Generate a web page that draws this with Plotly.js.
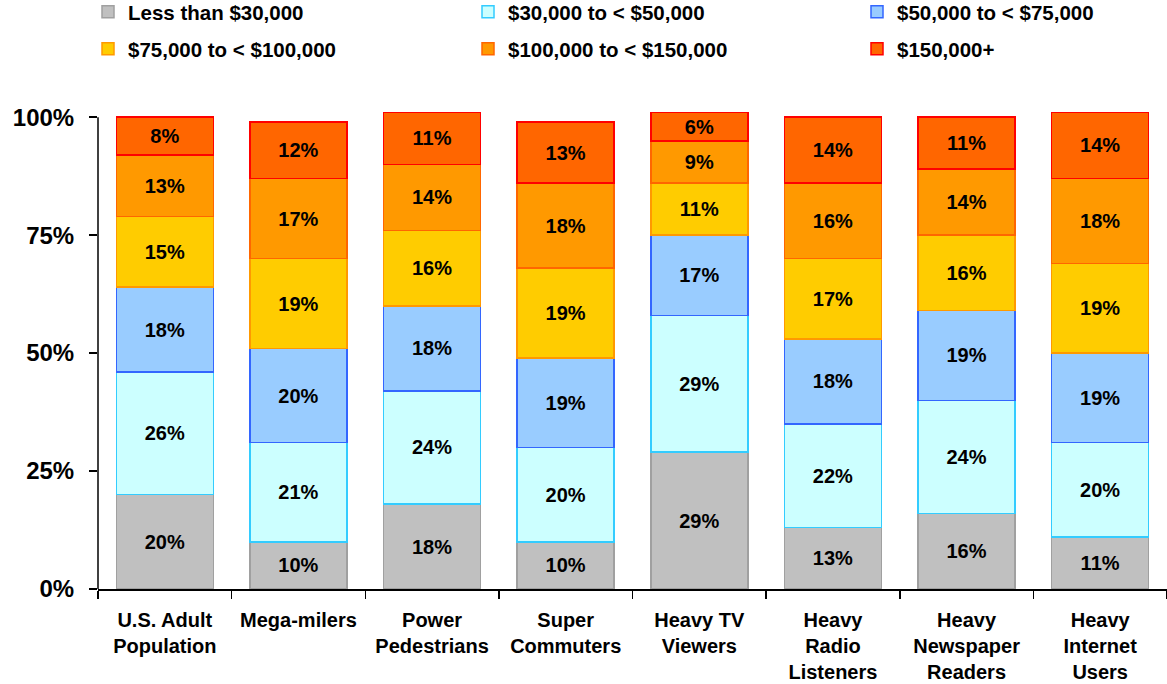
<!DOCTYPE html>
<html>
<head>
<meta charset="utf-8">
<script src="https://cdn.plot.ly/plotly-3.0.1.min.js"></script>
<style>html,body{margin:0;padding:0;background:#fff;}#chart{width:1167px;height:684px;}</style>
</head>
<body>
<div id="chart"></div>
<script>
const categories = ["U.S. Adult<br>Population", "Mega-milers", "Power<br>Pedestrians", "Super<br>Commuters", "Heavy TV<br>Viewers", "Heavy<br>Radio<br>Listeners", "Heavy<br>Newspaper<br>Readers", "Heavy<br>Internet<br>Users"];
const seriesNames = ["Less than $30,000", "$30,000 to < $50,000", "$50,000 to < $75,000", "$75,000 to < $100,000", "$100,000 to < $150,000", "$150,000+"];
const lessThan30k   = [20, 10, 18, 10, 29, 13, 16, 11];
const from30to50k   = [26, 21, 24, 20, 29, 22, 24, 20];
const from50to75k   = [18, 20, 18, 19, 17, 18, 19, 19];
const from75to100k  = [15, 19, 16, 19, 11, 17, 16, 19];
const from100to150k = [13, 17, 14, 18,  9, 16, 14, 18];
const over150k      = [ 8, 12, 11, 13,  6, 14, 11, 14];
const yTickVals = [0, 25, 50, 75, 100];
const yTickText = ["0%", "25%", "50%", "75%", "100%"];

const fills = ["#C0C0C0", "#CCFFFF", "#99CCFF", "#FFCC00", "#FF9900", "#FF6600"];
const lines = ["#A0A0A0", "#33CCFF", "#3366FF", "#FF9900", "#FF6600", "#FF0000"];
const allSeries = [lessThan30k, from30to50k, from50to75k, from75to100k, from100to150k, over150k];
const FONT = '"Liberation Sans", Arial, sans-serif';

const legendIds = ['legend', 'legend2', 'legend3', 'legend4', 'legend5', 'legend6'];

const traces = allSeries.map((vals, i) => ({
  type: 'bar',
  name: seriesNames[i],
  x: categories,
  y: vals,
  legend: legendIds[i],
  marker: {color: fills[i], line: {color: lines[i], width: 1.5}},
  texttemplate: '<b>%{y}%</b>',
  textposition: 'inside',
  insidetextanchor: 'middle',
  textangle: 0,
  constraintext: 'none',
  textfont: {family: FONT, size: 20, color: '#000'},
  hoverinfo: 'skip'
}));

// legend placement (pixels of the page): column left edges and row centres
const colPx = [88, 468, 857];
const rowPx = [12, 49];
const plotL = 98, plotW = 1069, plotT = 70, plotH = 519;

const layout = {
  width: 1167,
  height: 684,
  margin: {l: plotL, r: 0, t: plotT, b: 95, autoexpand: false},
  paper_bgcolor: '#fff',
  plot_bgcolor: '#fff',
  barmode: 'stack',
  bargap: 0.274,
  showlegend: true,
  xaxis: {
    type: 'category',
    showline: true,
    linecolor: '#000',
    linewidth: 1.5,
    ticks: 'outside',
    tickson: 'boundaries',
    ticklen: 8,
    tickwidth: 1.5,
    tickcolor: '#000',
    ticklabelstandoff: 12,
    showgrid: false,
    zeroline: false,
    tickfont: {family: FONT, size: 20, color: '#000', weight: 'bold'},
    fixedrange: true
  },
  yaxis: {
    range: [0, 110],
    tickvals: yTickVals,
    ticktext: yTickText,
    ticks: 'outside',
    ticklen: 8,
    tickwidth: 1.5,
    tickcolor: '#000',
    ticklabelstandoff: 10,
    showline: false,
    showgrid: false,
    zeroline: false,
    tickfont: {family: FONT, size: 24, color: '#000', weight: 'bold'},
    fixedrange: true
  },
  shapes: [{
    type: 'line', xref: 'paper', yref: 'y', x0: 0, x1: 0, y0: 0, y1: 100,
    line: {color: '#000', width: 1.5}
  }]
};

legendIds.forEach((id, i) => {
  const col = i % 3, row = Math.floor(i / 3);
  layout[id] = {
    orientation: 'h',
    xanchor: 'left',
    yanchor: 'middle',
    x: (colPx[col] - plotL) / plotW,
    y: 1 + (plotT - rowPx[row]) / plotH,
    bgcolor: 'rgba(0,0,0,0)',
    borderwidth: 0,
    font: {family: FONT, size: 20.5, color: '#000', weight: 'bold'}
  };
});

Plotly.newPlot('chart', traces, layout, {displayModeBar: false, staticPlot: true});
</script>
</body>
</html>
